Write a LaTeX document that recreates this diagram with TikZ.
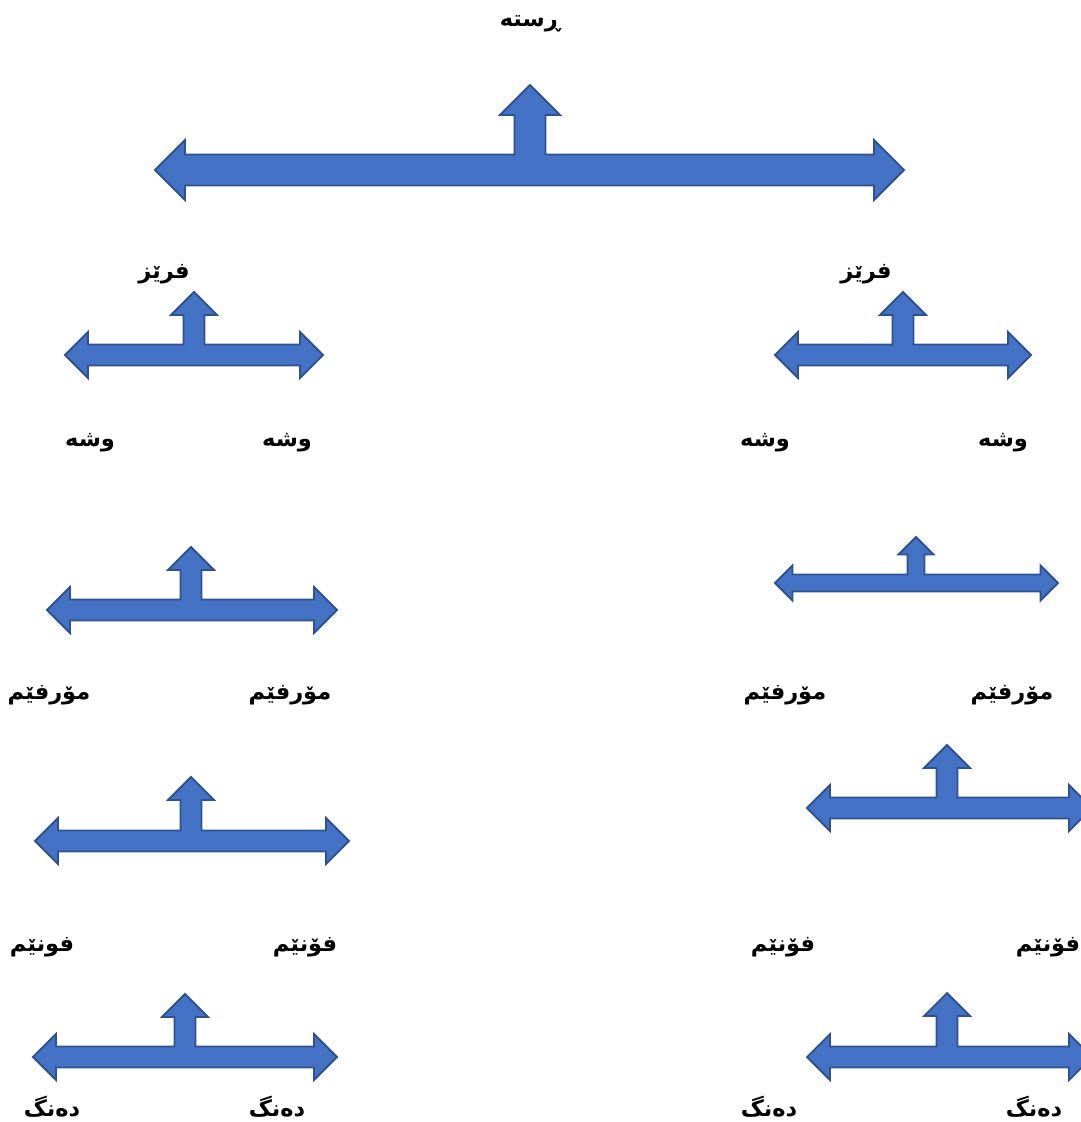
\documentclass[tikz,border=0pt]{standalone}
\usepackage{fontspec}
\newfontfamily\kurd[Script=Arabic]{DejaVu Sans}
\TeXXeTstate=1
\definecolor{arrowfill}{HTML}{4472C4}
\definecolor{arrowline}{HTML}{2F528F}
% lx, rx, cy, ux, uy, s (half shaft), h (head size)
\newcommand{\lruarrow}[7]{%
  \draw[blockarrow] (#1,#3) -- (#1+#7,#3-#7) -- (#1+#7,#3-#6) -- (#4-#6,#3-#6)
    -- (#4-#6,#5+#7) -- (#4-#7,#5+#7) -- (#4,#5) -- (#4+#7,#5+#7) -- (#4+#6,#5+#7)
    -- (#4+#6,#3-#6) -- (#2-#7,#3-#6) -- (#2-#7,#3-#7) -- (#2,#3)
    -- (#2-#7,#3+#7) -- (#2-#7,#3+#6) -- (#1+#7,#3+#6) -- (#1+#7,#3+#7) -- cycle;}
\begin{document}
\begin{tikzpicture}[x=1pt,y=-1pt,
  blockarrow/.style={fill=arrowfill,draw=arrowline,line width=1.8pt,line join=miter},
  lbl/.style={font=\kurd\bfseries\fontsize{22.5}{27}\selectfont,inner sep=0pt,anchor=center}]
\useasboundingbox (0,0) rectangle (1081,1122);
\clip (0,0) rectangle (1081,1122);
% arrows
\lruarrow{155}{904}{170}{530}{85}{15.5}{30}
\lruarrow{65}{323}{355}{194}{292}{10.5}{23}
\lruarrow{775}{1031}{355}{903}{292}{10.5}{23}
\lruarrow{47}{337}{610}{191}{547}{10.5}{23}
\lruarrow{775}{1058}{583}{916}{537}{8.5}{17.5}
\lruarrow{35}{349}{841}{191}{777}{10.5}{23}
\lruarrow{807}{1092}{808}{947}{745}{10.5}{23}
\lruarrow{33}{337}{1057}{185}{994}{10.5}{23}
\lruarrow{807}{1092}{1057}{947}{993}{10.5}{23}
% labels
\node[lbl] (rsta) at (530,24) {\beginR ڕستە\endR};
\node[lbl] (frezL) at (164,274) {\beginR فرێز\endR};
\node[lbl] (frezR) at (866,274) {\beginR فرێز\endR};
\node[lbl] (wshaL1) at (90,443) {\beginR وشە\endR};
\node[lbl] (wshaL2) at (287,443) {\beginR وشە\endR};
\node[lbl] (wshaR1) at (765,443) {\beginR وشە\endR};
\node[lbl] (wshaR2) at (1003,443) {\beginR وشە\endR};
\node[lbl] (morfL1) at (49,695) {\beginR مۆرفێم\endR};
\node[lbl] (morfL2) at (290,695) {\beginR مۆرفێم\endR};
\node[lbl] (morfR1) at (785,695) {\beginR مۆرفێم\endR};
\node[lbl] (morfR2) at (1012,695) {\beginR مۆرفێم\endR};
\node[lbl] (fonL1) at (42,947) {\beginR فونێم\endR};
\node[lbl] (fonL2) at (305,947) {\beginR فۆنێم\endR};
\node[lbl] (fonR1) at (783,947) {\beginR فۆنێم\endR};
\node[lbl] (fonR2) at (1048,947) {\beginR فۆنێم\endR};
\node[lbl] (dangL1) at (52,1107) {\beginR دەنگ\endR};
\node[lbl] (dangL2) at (277,1107) {\beginR دەنگ\endR};
\node[lbl] (dangR1) at (769,1107) {\beginR دەنگ\endR};
\node[lbl] (dangR2) at (1034,1107) {\beginR دەنگ\endR};
\end{tikzpicture}
\end{document}
